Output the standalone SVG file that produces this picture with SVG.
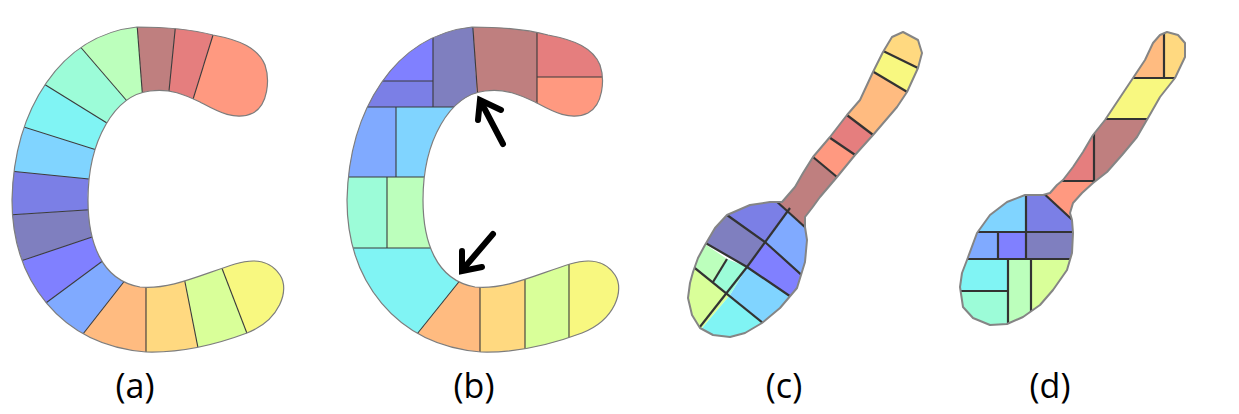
<svg xmlns="http://www.w3.org/2000/svg" xmlns:xlink="http://www.w3.org/1999/xlink" width="1239" height="414" viewBox="0 0 1239 414">
<style>
.sal{fill:#ff9980}.red{fill:#e57e7e}.brn{fill:#bf7f7f}.lgr{fill:#bcffbc}.aqu{fill:#9cfcd8}
.cya{fill:#80f4f4}.lbl{fill:#80d4ff}.bvi{fill:#7b7fe6}.gbl{fill:#7f7fbf}.blu{fill:#8080ff}
.cbl{fill:#80aaff}.ora{fill:#ffbb80}.gol{fill:#ffd980}.lim{fill:#d9ff99}.yel{fill:#f8f880}
.dthin{stroke:#3a3a3a;stroke-width:1.1;fill:none}
.dthick{stroke:#333333;stroke-width:2.2;fill:none}
.outc{fill:none;stroke:#7d7d7d;stroke-width:1.2}
.outs{fill:none;stroke:#858585;stroke-width:2;stroke-linejoin:round}
.arrow{stroke:#000000;stroke-width:6;fill:none;stroke-linecap:round;stroke-linejoin:miter}
.label{font-family:"Open Sans","Liberation Sans",sans-serif;font-size:34px;fill:#000000;text-anchor:middle}
</style>
<defs>
<path id="cpath" d="M137,27 C60,35 14,110 12,200 C12,280 60,345 146,352 C180,353 215,345 247,333 C280,320 290,290 280,275 C270,260 255,258 235,264 C200,275 170,290 140,287 C100,280 88,240 88,200 C88,140 115,95 150,91 C170,88 185,95 200,102 C215,110 235,122 253,113 C268,105 270,80 265,65 C258,48 240,40 213,35 C190,29 165,27 137,27 Z"/>
<path id="spc" d="M903,32 L918,40 L922,53 L918,68 L907,92 L897,107 L873,135 L855,155 L837,177 L820,197 L812,208 L805,217 L805,227 L807,240 L805,262 L797,288 L780,308 L762,323 L745,333 L730,337 L713,335 L700,328 L692,315 L688,298 L690,283 L693,272 L698,258 L705,245 L715,228 L727,215 L750,205 L770,202 L782,202 L795,187 L803,173 L813,157 L830,137 L847,115 L860,100 L873,72 L883,52 L892,37 Z"/>
<path id="spd" d="M1167,32 L1178,35 L1185,43 L1185,57 L1175,78 L1160,97 L1148,118 L1137,137 L1122,155 L1107,172 L1093,183 L1082,193 L1073,203 L1070,213 L1072,220 L1073,233 L1072,253 L1067,270 L1053,290 L1040,305 L1023,317 L1007,324 L990,325 L973,318 L963,307 L960,287 L962,273 L967,260 L977,233 L990,215 L1007,202 L1025,195 L1043,195 L1050,193 L1057,185 L1063,180 L1073,167 L1083,152 L1093,135 L1105,120 L1117,102 L1133,78 L1145,60 L1153,43 L1160,35 Z"/>
<clipPath id="clipA"><use xlink:href="#cpath" href="#cpath"/></clipPath>
<clipPath id="clipB"><use xlink:href="#cpath" href="#cpath" transform="translate(335,0)"/></clipPath>
<clipPath id="clipC"><use xlink:href="#spc" href="#spc"/></clipPath>
<clipPath id="clipD"><use xlink:href="#spd" href="#spd"/></clipPath>
</defs>
<rect width="1239" height="414" fill="#ffffff"/>

<g id="panel-a">
<g clip-path="url(#clipA)">
<polygon class="sal" points="218,19 300,19 300,140 190,140 190,109"/>
<polygon class="red" points="218,19 177,11 168,101 190,109"/>
<polygon class="brn" points="177,11 136,11 143,102 168,101"/>
<polygon class="lgr" points="136,11 71,36 133,108 143,102"/>
<polygon class="aqu" points="71,36 31,76 115,128 133,108"/>
<polygon class="cya" points="31,76 8,122 103,152 115,128"/>
<polygon class="lbl" points="8,122 0,170 99,180 103,152"/>
<polygon class="bvi" points="0,170 -7,216 101,209 99,180"/>
<polygon class="gbl" points="-7,216 6,266 104,233 101,209"/>
<polygon class="blu" points="6,266 31,314 112,254 104,233"/>
<polygon class="cbl" points="31,314 72,348 130,274 112,254"/>
<polygon class="ora" points="72,348 146,368 146,278 130,274"/>
<polygon class="gol" points="146,368 201,363 183,272 146,278"/>
<polygon class="lim" points="201,363 253,349 218,258 183,272"/>
<polygon class="yel" points="253,349 300,360 300,240 218,240 218,258"/>
<g class="dthin">
<line x1="218" y1="19" x2="190" y2="109"/>
<line x1="177" y1="11" x2="168" y2="101"/>
<line x1="136" y1="11" x2="143" y2="102"/>
<line x1="71" y1="36" x2="133" y2="108"/>
<line x1="31" y1="76" x2="115" y2="128"/>
<line x1="8" y1="122" x2="103" y2="152"/>
<line x1="0" y1="170" x2="99" y2="180"/>
<line x1="-7" y1="216" x2="101" y2="209"/>
<line x1="6" y1="266" x2="104" y2="233"/>
<line x1="31" y1="314" x2="112" y2="254"/>
<line x1="72" y1="348" x2="130" y2="274"/>
<line x1="146" y1="368" x2="146" y2="278"/>
<line x1="201" y1="363" x2="183" y2="272"/>
<line x1="253" y1="349" x2="218" y2="258"/>
</g>
</g>
<use xlink:href="#cpath" href="#cpath" class="outc"/>
</g>

<g id="panel-b">
<g clip-path="url(#clipB)">
<polygon class="blu" points="330,0 433,0 433,81 330,81"/>
<polygon class="bvi" points="330,81 433,81 433,107 330,107"/>
<polygon class="gbl" points="433,0 472,0 478,115 455,115 453,107 433,107"/>
<polygon class="brn" points="472,0 537,0 537,120 478,120"/>
<polygon class="red" points="537,0 640,0 640,77 537,77"/>
<polygon class="sal" points="537,77 640,77 640,140 537,140"/>
<polygon class="cbl" points="330,107 396,107 396,177 330,177"/>
<polygon class="lbl" points="396,107 460,107 460,177 396,177"/>
<polygon class="aqu" points="330,177 387,177 387,248 330,248"/>
<polygon class="lgr" points="387,177 450,177 450,248 387,248"/>
<polygon class="cya" points="330,248 470,248 466,273 400,356 330,360"/>
<polygon class="ora" points="400,356 466,273 480,273 480,370 400,370"/>
<polygon class="gol" points="480,260 525,260 525,370 480,370"/>
<polygon class="lim" points="525,250 569,250 569,370 525,370"/>
<polygon class="yel" points="569,240 640,240 640,370 569,370"/>
<g class="dthin">
<line x1="433" y1="30" x2="433" y2="107"/>
<line x1="370" y1="81" x2="433" y2="81"/>
<line x1="355" y1="107" x2="455" y2="107"/>
<line x1="472" y1="15" x2="478" y2="100"/>
<line x1="537" y1="25" x2="537" y2="110"/>
<line x1="537" y1="77" x2="610" y2="77"/>
<line x1="396" y1="107" x2="396" y2="177"/>
<line x1="340" y1="177" x2="430" y2="177"/>
<line x1="387" y1="177" x2="387" y2="248"/>
<line x1="340" y1="248" x2="440" y2="248"/>
<line x1="405" y1="349" x2="466" y2="273"/>
<line x1="480" y1="280" x2="480" y2="360"/>
<line x1="525" y1="270" x2="525" y2="360"/>
<line x1="569" y1="255" x2="569" y2="350"/>
</g>
</g>
<use xlink:href="#cpath" href="#cpath" class="outc" transform="translate(335,0)"/>
</g>

<g id="arrows">
<line class="arrow" x1="503" y1="144" x2="481" y2="102"/>
<polyline class="arrow" points="478,120 480,100 501,110"/>
<line class="arrow" x1="493" y1="234" x2="464" y2="268"/>
<polyline class="arrow" points="462,251 462,271 482,267"/>
</g>

<g id="panel-c">
<g clip-path="url(#clipC)">
<polygon class="gol" points="875,47 930,74 950,0 860,0"/>
<polygon class="yel" points="875,47 930,74 919,99 862,65"/>
<polygon class="ora" points="862,65 919,99 885,144 835,106"/>
<polygon class="red" points="835,106 885,144 867,163 817,129"/>
<polygon class="sal" points="817,129 867,163 849,187 801,147"/>
<polygon class="brn" points="801,147 849,187 817,238 765,191"/>
<polygon class="bvi" points="787,212 760,186 700,186 707,202 727,215 765,242"/>
<polygon class="cbl" points="787,212 825,245 815,287 765,242"/>
<polygon class="gbl" points="690,234 707,202 727,215 765,242 747,267"/>
<polygon class="blu" points="765,242 815,287 800,303 747,267"/>
<polygon class="lbl" points="747,267 800,303 774,332 730,295"/>
<polygon class="lgr" points="690,234 727,259 713,282 680,256"/>
<polygon class="aqu" points="727,259 747,267 730,295 713,282"/>
<polygon class="lim" points="680,256 730,295 692,340 670,340"/>
<polygon class="cya" points="730,295 774,332 770,350 692,350 692,340"/>
<g class="dthick">
<line x1="875" y1="47" x2="930" y2="74"/>
<line x1="862" y1="65" x2="919" y2="99"/>
<line x1="835" y1="106" x2="885" y2="144"/>
<line x1="817" y1="129" x2="867" y2="163"/>
<line x1="801" y1="147" x2="849" y2="187"/>
<line x1="765" y1="191" x2="817" y2="238"/>
<polyline points="707,202 727,215 765,242 815,287"/>
<line x1="790" y1="208" x2="747" y2="267"/>
<polyline points="690,234 747,267 800,303"/>
<line x1="727" y1="259" x2="713" y2="282"/>
<line x1="747" y1="267" x2="692" y2="337"/>
<line x1="680" y1="256" x2="774" y2="332"/>
</g>
</g>
<use xlink:href="#spc" href="#spc" class="outs"/>
</g>

<g id="panel-d">
<g clip-path="url(#clipD)">
<polygon class="ora" points="1120,20 1164,20 1164,78 1120,78"/>
<polygon class="gol" points="1164,20 1200,20 1200,78 1164,78"/>
<polygon class="yel" points="1100,78 1200,78 1200,119 1100,119"/>
<polygon class="red" points="1060,119 1094,119 1094,181 1060,181"/>
<polygon class="brn" points="1094,119 1160,119 1160,200 1094,200"/>
<polygon class="sal" points="1040,181 1094,181 1094,205 1080,227 1040,190"/>
<polygon class="lbl" points="950,180 1026,180 1026,232 950,232"/>
<polygon class="bvi" points="1026,185 1040,190 1080,227 1090,227 1090,232 1026,232"/>
<polygon class="cbl" points="950,232 998,232 998,259 950,259"/>
<polygon class="blu" points="998,232 1026,232 1026,259 998,259"/>
<polygon class="gbl" points="1026,232 1090,232 1090,259 1026,259"/>
<polygon class="cya" points="950,259 1008,259 1008,291 950,291"/>
<polygon class="aqu" points="950,291 1008,291 1008,340 950,340"/>
<polygon class="lgr" points="1008,259 1031,259 1031,340 1008,340"/>
<polygon class="lim" points="1031,259 1090,259 1090,340 1031,340"/>
<g class="dthick">
<line x1="1164" y1="25" x2="1164" y2="78"/>
<line x1="1125" y1="78" x2="1185" y2="78"/>
<line x1="1100" y1="119" x2="1155" y2="119"/>
<line x1="1094" y1="125" x2="1094" y2="185"/>
<line x1="1055" y1="181" x2="1094" y2="181"/>
<line x1="1040" y1="190" x2="1080" y2="227"/>
<line x1="1026" y1="190" x2="1026" y2="259"/>
<line x1="970" y1="232" x2="1080" y2="232"/>
<line x1="998" y1="232" x2="998" y2="259"/>
<line x1="955" y1="259" x2="1080" y2="259"/>
<line x1="1008" y1="259" x2="1008" y2="330"/>
<line x1="955" y1="291" x2="1008" y2="291"/>
<line x1="1031" y1="259" x2="1031" y2="325"/>
</g>
</g>
<use xlink:href="#spd" href="#spd" class="outs"/>
</g>

<g id="labels">
<text class="label" x="135" y="398">(a)</text>
<text class="label" x="474" y="398">(b)</text>
<text class="label" x="784" y="398">(c)</text>
<text class="label" x="1050" y="398">(d)</text>
</g>
</svg>
